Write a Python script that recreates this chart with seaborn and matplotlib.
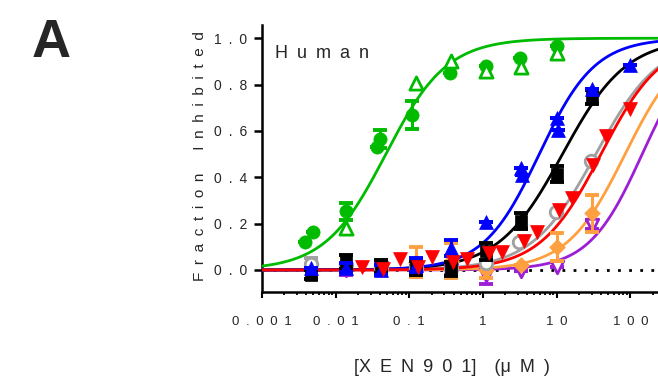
import numpy as np
import pandas as pd
import matplotlib
matplotlib.use("Agg")
import matplotlib.pyplot as plt
import seaborn as sns
from matplotlib.ticker import LogLocator, NullFormatter

sns.set_style("white")
plt.rcParams['font.family'] = ['Liberation Sans', 'DejaVu Sans']

SP = "\u2002"

# ---------------- data ----------------
green_circ_x = [0.0038, 0.0050, 0.0137, 0.036, 0.040, 0.110, 0.36, 1.1, 3.2, 10]
green_circ_y = [0.12, 0.165, 0.253, 0.53, 0.565, 0.667, 0.851, 0.88, 0.915, 0.967]
green_circ_e = [0, 0, 0.037, 0, 0.04, 0.06, 0, 0, 0, 0]

green_tri_x = [0.0137, 0.123, 0.37, 1.1, 3.3, 10]
green_tri_y = [0.18, 0.805, 0.90, 0.86, 0.875, 0.938]

blue_x = [0.0046, 0.0137, 0.041, 0.123, 0.37, 1.1, 3.3, 3.4, 10, 10.5, 30, 100]
blue_y = [0.007, 0.01, 0.0, 0.02, 0.095, 0.205, 0.44, 0.41, 0.657, 0.606, 0.78, 0.885]
blue_e = [0, 0.02, 0.02, 0.03, 0.035, 0, 0, 0, 0, 0, 0, 0]

black_x = [0.0046, 0.0137, 0.041, 0.123, 0.37, 1.1, 3.3, 10, 30]
black_y = [-0.02, 0.035, 0.015, 0.01, 0.005, 0.08, 0.21, 0.415, 0.745]
black_e = [0.02, 0.03, 0.03, 0.03, 0.03, 0.035, 0.035, 0.035, 0.03]

gray_x = [0.0046, 0.0137, 0.041, 0.123, 0.37, 1.1, 3.1, 9.8, 29]
gray_y = [0.025, 0.02, 0.01, 0.01, 0.005, 0.03, 0.12, 0.25, 0.47]
gray_e = [0.025, 0, 0, 0, 0, 0, 0, 0, 0]

red_x = [0.0227, 0.0445, 0.075, 0.133, 0.202, 0.397, 0.604, 1.19, 1.81,
         3.55, 5.4, 10.6, 16.1, 31.1, 47.2, 98]
red_y = [0.015, 0.005, 0.047, 0.015, 0.055, 0.036, 0.046, 0.072, 0.077,
         0.127, 0.166, 0.26, 0.31, 0.455, 0.58, 0.696]

orange_x = [0.123, 0.37, 1.1, 3.3, 10, 30]
orange_y = [0.035, 0.04, 0.0, 0.02, 0.10, 0.245]
orange_e = [0.065, 0.075, 0.035, 0.0, 0.06, 0.08]

purple_x = [0.0137, 0.041, 0.123, 0.37, 1.1, 3.3, 10, 30]
purple_y = [0.0, 0.01, 0.005, 0.0, -0.02, -0.005, 0.015, 0.195]
purple_e = [0.02, 0.02, 0.02, 0.02, 0.04, 0, 0, 0.02]

# Hill fit parameters: name, IC50 (uM), Hill slope
fit_names = ["green", "blue", "black", "gray", "red", "orange", "purple"]
fit_ic50 = [0.048, 5.8, 12.0, 34.0, 40.0, 85.0, 145.0]
fit_hill = [1.05, 1.15, 1.0, 1.0, 1.05, 1.1, 1.2]

colors = {"green": "#00bb00", "blue": "#0000ff", "black": "#000000",
          "gray": "#a0a0a0", "red": "#ff0000", "orange": "#ffa040",
          "purple": "#9c1fd6"}

x_ticks = [0.001, 0.01, 0.1, 1, 10, 100, 1000]
x_ticklabels = ["0.001", "0.01", "0.1", "1", "10", "100", ""]
y_ticks = [0.0, 0.2, 0.4, 0.6, 0.8, 1.0]
y_ticklabels = ["0.0", "0.2", "0.4", "0.6", "0.8", "1.0"]


def spaced(s):
    return SP.join(list(s))


# ---------------- figure ----------------
W, H = 658, 382
fig = plt.figure(figsize=(W / 100, H / 100), dpi=100)
ax = fig.add_axes([262 / W, (H - 292) / H, (704 - 262) / W, (292 - 25) / H])
ax.set_xscale("log")
ax.set_xlim(0.001, 1000)
ax.set_ylim(-0.095, 1.057)

# zero dotted line
ax.axhline(0, color="black", lw=2.0, ls=(0, (1, 3)), zorder=1)

# fitted curves
xs = np.logspace(-3, 3, 500)
curves = []
for name, ic, h in zip(fit_names, fit_ic50, fit_hill):
    curves.append(pd.DataFrame({"x": xs, "y": 1.0 / (1.0 + (ic / xs) ** h), "name": name}))
curves = pd.concat(curves, ignore_index=True)
order_z = {"purple": 2, "orange": 3, "gray": 4, "black": 5, "blue": 6, "red": 7, "green": 8}
for name in fit_names:
    sub = curves[curves["name"] == name]
    sns.lineplot(data=sub, x="x", y="y", color=colors[name], lw=2.0, ax=ax,
                 zorder=order_z[name], legend=False)


def pts(x, y, e, color, marker, z, open_=False, size=9):
    if e is not None:
        ax.errorbar(x, y, yerr=e, fmt="none", ecolor=color, elinewidth=2.2,
                    capsize=5, capthick=2.8, zorder=z)
    df = pd.DataFrame({"x": x, "y": y})
    if open_:
        sns.scatterplot(data=df, x="x", y="y", marker=marker, s=size ** 2,
                        facecolor="white", edgecolor=color, linewidth=2.0,
                        ax=ax, zorder=z + 0.1, legend=False)
    else:
        sns.scatterplot(data=df, x="x", y="y", marker=marker, s=size ** 2,
                        color=color, edgecolor=color, linewidth=0.5,
                        ax=ax, zorder=z + 0.1, legend=False)


pts(purple_x, purple_y, purple_e, colors["purple"], "v", 10, open_=True, size=9)
pts(orange_x, orange_y, orange_e, colors["orange"], "D", 11, size=8)
pts(gray_x, gray_y, gray_e, colors["gray"], "o", 12, open_=True, size=9)
pts(black_x, black_y, black_e, colors["black"], "s", 13, size=9)
pts(blue_x, blue_y, blue_e, colors["blue"], "^", 14, size=10)
pts(red_x, red_y, None, colors["red"], "v", 15, size=10)
pts(green_circ_x, green_circ_y, green_circ_e, colors["green"], "o", 16, size=9.5)
pts(green_tri_x, green_tri_y, None, colors["green"], "^", 17, open_=True, size=9.5)

# axes styling
for s in ["top", "right"]:
    ax.spines[s].set_visible(False)
for s in ["left", "bottom"]:
    ax.spines[s].set_linewidth(1.8)
    ax.spines[s].set_color("black")

ax.set_xticks(x_ticks)
ax.set_xticklabels([spaced(t) for t in x_ticklabels], fontsize=9.5)
ax.xaxis.set_minor_locator(LogLocator(base=10, subs=np.arange(2, 10), numticks=20))
ax.xaxis.set_minor_formatter(NullFormatter())
ax.tick_params(axis="x", which="major", direction="out", length=4.5, width=1.5,
               pad=13, bottom=True, color="black")
ax.tick_params(axis="x", which="minor", direction="out", length=2.5, width=1.3,
               bottom=True, color="black")
ax.set_yticks(y_ticks)
ax.set_yticklabels([spaced(t) for t in y_ticklabels], fontsize=10)
ax.tick_params(axis="y", which="major", direction="out", length=5.8, width=1.8,
               pad=5, left=True, color="black")
ax.set_xlabel("")
ax.set_ylabel("")
ax.grid(False)

# labels
fig.text(200 / W, 1 - 156 / H, spaced("Fraction") + SP * 3 + spaced("Inhibited"),
         rotation=90, ha="center", va="center", fontsize=11)
xl = "[" + SP.join("XEN901") + "]" + SP * 2 + "(μ" + SP + "M" + SP + ")"
fig.text(452 / W, 1 - 367 / H, xl, ha="center", va="center", fontsize=13)
fig.text(275 / W, 1 - 54 / H, spaced("Human"), ha="left", va="center", fontsize=13)
fig.text(51 / W, 1 - 43 / H, "A", ha="center", va="center", fontsize=39,
         fontweight="bold")

fig.savefig("out.png", dpi=100)
